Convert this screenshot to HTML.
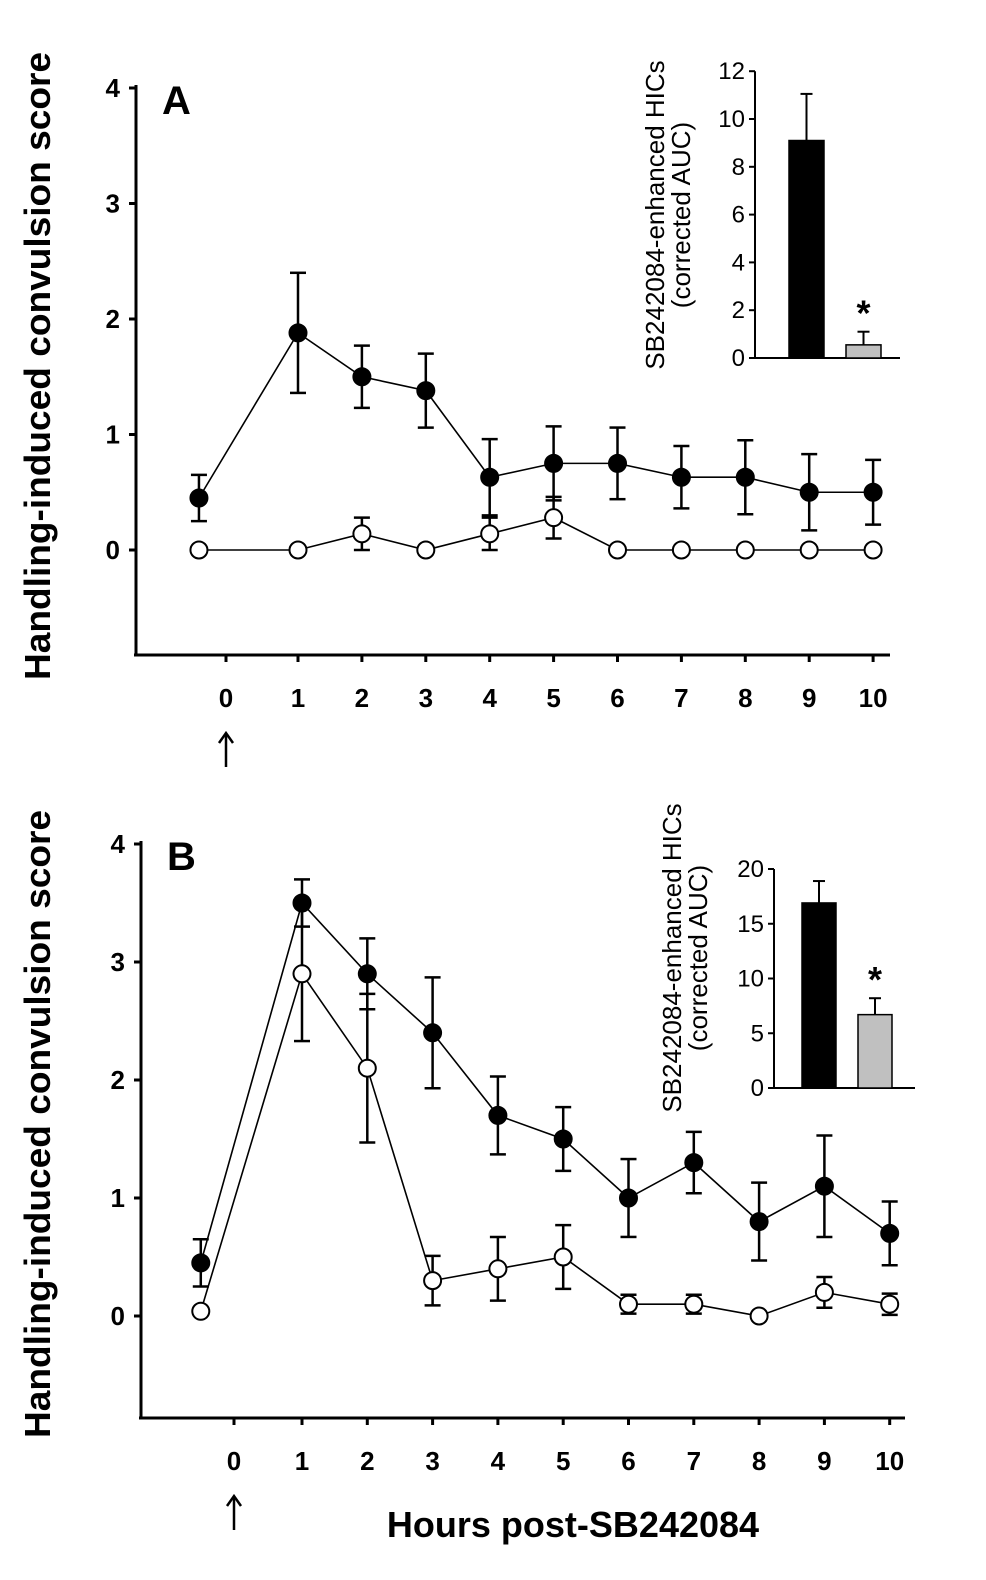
<!DOCTYPE html>
<html><head><meta charset="utf-8"><style>
body{margin:0;background:#fff}
svg{display:block}
text{font-family:"Liberation Sans",Arial,sans-serif}
.tk{font-weight:bold;font-size:26px}
.it{font-size:24px}
.il{font-size:26px}
</style></head><body>
<svg id="fig" width="986" height="1580" viewBox="0 0 986 1580"></svg>
<script>
const hours=[-0.55,1,2,3,4,5,6,7,8,9,10];
const tickHours=[0,1,2,3,4,5,6,7,8,9,10];
const tickLabels=["0","1","2","3","4","5","6","7","8","9","10"];
const yTicks=[0,1,2,3,4];
const aFilled=[0.45,1.88,1.5,1.38,0.63,0.75,0.75,0.63,0.63,0.5,0.5];
const aFilledErr=[0.2,0.52,0.27,0.32,0.33,0.32,0.31,0.27,0.32,0.33,0.28];
const aOpen=[0,0,0.14,0,0.14,0.28,0,0,0,0,0];
const aOpenErr=[0,0,0.14,0,0.14,0.18,0,0,0,0,0];
const bFilled=[0.45,3.5,2.9,2.4,1.7,1.5,1.0,1.3,0.8,1.1,0.7];
const bFilledErr=[0.2,0.2,0.3,0.47,0.33,0.27,0.33,0.26,0.33,0.43,0.27];
const bOpen=[0.04,2.9,2.1,0.3,0.4,0.5,0.1,0.1,0,0.2,0.1];
const bOpenErr=[0,0.57,0.63,0.21,0.27,0.27,0.08,0.08,0,0.13,0.09];
const insetGroups=["vehicle","treated"];
const insetA=[9.1,0.55];
const insetAErr=[1.95,0.55];
const insetATicks=[0,2,4,6,8,10,12];
const insetB=[16.9,6.7];
const insetBErr=[2.0,1.5];
const insetBTicks=[0,5,10,15,20];

const svg=document.getElementById('fig');
const NS='http://www.w3.org/2000/svg';
function mk(tag,attrs,parent,txt){const e=document.createElementNS(NS,tag);for(const k in attrs)e.setAttribute(k,attrs[k]);if(txt!==undefined)e.textContent=txt;(parent||svg).appendChild(e);return e;}

function panel(cfg){
  const g=mk('g',{});
  
  
  const x=h=>cfg.x1+(h-1)*cfg.dx;
  const y=v=>cfg.y0-v*cfg.dy;
  const ya=mk('line',{x1:cfg.ax,y1:y(4)-3,x2:cfg.ax,y2:cfg.bot,stroke:'#000','stroke-width':3},g);
  
  const xa=mk('line',{x1:cfg.ax-2,y1:cfg.bot,x2:cfg.xend,y2:cfg.bot,stroke:'#000','stroke-width':3},g);
  
  yTicks.forEach(v=>{
    mk('line',{x1:cfg.ax-7,y1:y(v),x2:cfg.ax,y2:y(v),stroke:'#000','stroke-width':3},g);
    const t=mk('text',{x:cfg.ax-16,y:y(v)+9,'text-anchor':'end',class:'tk'},g,String(v));
    
  });
  tickHours.forEach((h,i)=>{
    const xx=h===0?cfg.x0tick:x(h);
    mk('line',{x1:xx,y1:cfg.bot,x2:xx,y2:cfg.bot+7,stroke:'#000','stroke-width':3},g);
    const t=mk('text',{x:xx,y:cfg.bot+52,'text-anchor':'middle',class:'tk'},g,tickLabels[i]);
    
  });
  const ag=mk('g',{},g);
  
  const ax0=cfg.x0tick, at=cfg.bot+78, ab=cfg.bot+112;
  mk('line',{x1:ax0,y1:at+2,x2:ax0,y2:ab,stroke:'#000','stroke-width':2.5},ag);
  mk('polyline',{points:`${ax0-7},${at+10} ${ax0},${at} ${ax0+7},${at+10}`,fill:'none',stroke:'#000','stroke-width':2.5},ag);
  const lab=mk('text',{x:cfg.ax+26,y:y(4)+26,'font-size':'40px','font-weight':'bold'},g,cfg.id);
  
  const yl=mk('text',{x:0,y:0,transform:`translate(50,${cfg.titleY}) rotate(-90)`,'text-anchor':'middle','font-size':'36px','font-weight':'bold',textLength:cfg.titleLen,lengthAdjust:'spacingAndGlyphs'},g,'Handling-induced convulsion score');
  
  function series(vals,errs,fill,name){
    const sg=mk('g',{},g);
    
    mk('polyline',{points:vals.map((v,i)=>x(hours[i])+','+y(v)).join(' '),fill:'none',stroke:'#000','stroke-width':1.6},sg);
    vals.forEach((v,i)=>{
      if(errs[i]>0){
        const xx=x(hours[i]);
        mk('line',{x1:xx,y1:y(v+errs[i]),x2:xx,y2:y(v-errs[i]),stroke:'#000','stroke-width':2.5},sg);
        [v+errs[i],v-errs[i]].forEach(e=>mk('line',{x1:xx-8,y1:y(e),x2:xx+8,y2:y(e),stroke:'#000','stroke-width':2.5},sg));
      }
    });
    vals.forEach((v,i)=>{
      const c=mk('circle',{cx:x(hours[i]),cy:y(v),r:8.5,fill:fill,stroke:'#000','stroke-width':2},sg);
      
    });
  }
  series(cfg.open,cfg.openErr,'#fff','series-open');
  series(cfg.filled,cfg.filledErr,'#000','series-filled');
}
panel({id:'A',x1:298,dx:63.9,x0tick:226,ax:136,xend:890,y0:550,dy:115.5,bot:655,titleY:366,titleLen:628,filled:aFilled,filledErr:aFilledErr,open:aOpen,openErr:aOpenErr});
panel({id:'B',x1:302,dx:65.3,x0tick:234,ax:141,xend:905,y0:1316,dy:118,bot:1418,titleY:1124,titleLen:628,filled:bFilled,filledErr:bFilledErr,open:bOpen,openErr:bOpenErr});

function inset(cfg){
  const g=mk('g',{});
  
  const y=v=>cfg.y0-v*cfg.dy;
  const ticks=cfg.ticks;
  mk('line',{x1:cfg.ax,y1:y(ticks[ticks.length-1]),x2:cfg.ax,y2:cfg.y0,stroke:'#000','stroke-width':2},g);
  mk('line',{x1:cfg.ax,y1:cfg.y0,x2:cfg.xend,y2:cfg.y0,stroke:'#000','stroke-width':2},g);
  ticks.forEach(v=>{
    mk('line',{x1:cfg.ax-6,y1:y(v),x2:cfg.ax,y2:y(v),stroke:'#000','stroke-width':2},g);
    const t=mk('text',{x:cfg.ax-10,y:y(v)+8,'text-anchor':'end',class:'it'},g,String(v));
    
  });
  cfg.vals.forEach((v,i)=>{
    const bx=cfg.bx[i],bw=cfg.bw;
    const xx=bx+bw/2;
    mk('line',{x1:xx,y1:y(v+cfg.errs[i]),x2:xx,y2:y(v),stroke:'#000','stroke-width':2},g);
    mk('line',{x1:xx-6,y1:y(v+cfg.errs[i]),x2:xx+6,y2:y(v+cfg.errs[i]),stroke:'#000','stroke-width':2},g);
    const r=mk('rect',{x:bx,y:y(v),width:bw,height:v*cfg.dy,fill:i===0?'#000':'#c0c0c0',stroke:'#000','stroke-width':1.5},g);
    
  });
  const s=mk('text',{x:cfg.bx[1]+cfg.bw/2,y:y(cfg.vals[1]+cfg.errs[1])-6,'text-anchor':'middle','font-size':'36px','font-weight':'bold'},g,'*');
  
  const t=mk('text',{transform:`translate(${cfg.labX},${cfg.labY}) rotate(-90)`,'text-anchor':'middle',class:'il'},g);
  
  mk('tspan',{x:0,dy:0},t,'SB242084-enhanced HICs');
  mk('tspan',{x:0,dy:26},t,'(corrected AUC)');
}
inset({id:'A',ax:755,xend:900,y0:358,dy:23.9,ticks:insetATicks,vals:insetA,errs:insetAErr,bx:[789,846],bw:35,labX:664,labY:215});
inset({id:'B',ax:774,xend:915,y0:1088,dy:10.95,ticks:insetBTicks,vals:insetB,errs:insetBErr,bx:[802,858],bw:34,labX:681,labY:958});

const xt=mk('text',{x:573,y:1537,'text-anchor':'middle','font-size':'36px','font-weight':'bold'},svg,'Hours post-SB242084');


</script>
</body></html>
